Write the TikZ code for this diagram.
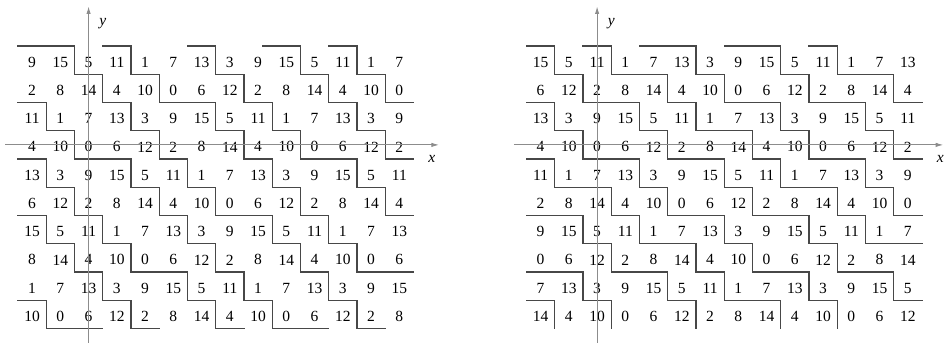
\documentclass[tikz,border=0pt]{standalone}
\usepackage{fontspec}
\setmainfont{Liberation Serif}
\usetikzlibrary{arrows.meta}
\begin{document}
\begin{tikzpicture}[x=0.8cm, y=0.8cm, >={Latex[length=6pt,width=3.5pt]},
    cellnum/.style={font=\fontsize{12.5}{14}\selectfont, inner sep=0pt, yshift=-1.6pt},
    stair/.style={draw=black!72, line width=1.1pt, line cap=rect},
    axisline/.style={->, draw=black!45, line width=0.7pt},
    axislabel/.style={font=\fontsize{12.5}{14}\selectfont\itshape, inner sep=0pt}]
  \useasboundingbox (-3.136,-7.19) rectangle (30.35,5.129);
  % two fields, value 6x+by mod 16
  \foreach \g/\b/\ox in {L/7/0, R/9/18} {
    \foreach \x in {-2,...,11} \foreach \y in {-6,...,3} {
      \pgfmathtruncatemacro\val{mod(6*\x+\b*\y+160,16)}
      \pgfmathtruncatemacro\i{\x+2}
      \pgfmathtruncatemacro\j{\y+6}
      \node[cellnum] (\g-\i-\j) at (\x+\ox,\y) {\val};
    }
    % vertical steps where a row wraps
    \foreach \x in {-2,...,10} \foreach \y in {-6,...,3} {
      \pgfmathtruncatemacro\va{mod(6*\x+\b*\y+160,16)}
      \pgfmathtruncatemacro\vb{mod(6*\x+6+\b*\y+160,16)}
      \ifnum\vb<\va\relax \draw[stair] (\x+\ox+0.5,\y-0.5) -- ++(0,1); \fi
    }
    % horizontal steps where a column wraps
    \foreach \x in {-2,...,11} \foreach \y in {-6,...,2} {
      \pgfmathtruncatemacro\va{mod(6*\x+\b*\y+160,16)}
      \pgfmathtruncatemacro\vb{mod(6*\x+\b*\y+\b+160,16)}
      \ifnum\vb<\va\relax \draw[stair] (\x+\ox-0.5,\y+0.5) -- ++(1,0); \fi
    }
  }
  % edges of the fields
  \foreach \a/\e in {-2.5/-0.5, 0.5/1.5, 3.5/4.5, 6.17/7.5, 8.5/9.5}
    \draw[stair] (\a,3.5) -- (\e,3.5);
  \foreach \a/\e in {-1.5/0.5, 1.5/2.5, 4.5/5.5, 6.5/8.5, 9.5/10.5}
    \draw[stair] (\a,-6.5) -- (\e,-6.5);
  \foreach \a/\e in {-2.5/-1.5, -0.5/0.5, 1.5/3.5, 4.5/6.5, 7.5/8.5}
    \draw[stair] (\a+18,3.5) -- (\e+18,3.5);
  % axes
  \foreach \g/\ox/\xe in {L/0/12.4, R/18/12.25} {
    \coordinate (\g-xs) at (\ox-2.95,0);
    \coordinate (\g-xe) at (\ox+\xe,0);
    \coordinate (\g-ys) at (\ox,-7.0);
    \coordinate (\g-ye) at (\ox,4.9);
    \draw[axisline] (\g-xs) -- (\g-xe);
    \draw[axisline] (\g-ys) -- (\g-ye);
    \node[axislabel] (\g-xl) at (\ox+12.15,-0.5) {x};
    \node[axislabel] (\g-yl) at (\ox+0.5,4.3) {y};
  }
\end{tikzpicture}
\end{document}
